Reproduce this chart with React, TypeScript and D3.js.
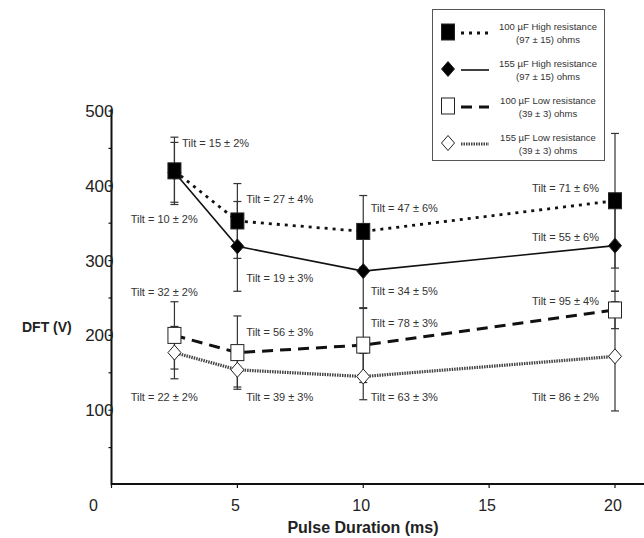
import React from 'react';
import * as d3 from 'd3';

// pulse durations (ms)
const durations = [2.5, 5, 10, 20];

const seriesNames = ['100 µF High resistance', '155 µF High resistance', '100 µF Low resistance', '155 µF Low resistance'];
const seriesOhms = ['(97 ± 15) ohms', '(97 ± 15) ohms', '(39 ± 3) ohms', '(39 ± 3) ohms'];

// DFT (V) and error
const dft100High = [420, 353, 339, 380];
const err100High = [45, 50, 48, 90];
const dft155High = [418, 319, 286, 320];
const err155High = [40, 60, 50, 61];
const dft100Low = [200, 177, 187, 234];
const err100Low = [45, 49, 50, 25];
const dft155Low = [177, 154, 145, 172];
const err155Low = [35, 23, 31, 73];

// tilt annotations, anchored in (ms, V)
const tilt100High = ['15 ± 2%', '27 ± 4%', '47 ± 6%', '71 ± 6%'];
const tiltAtX100High = [2.8, 5.35, 10.3, 16.7];
const tiltAtY100High = [457, 383, 370, 397];
const tilt155High = ['10 ± 2%', '19 ± 3%', '34 ± 5%', '55 ± 6%'];
const tiltAtX155High = [0.76, 5.35, 10.3, 16.7];
const tiltAtY155High = [355, 277, 260, 332];
const tilt100Low = ['32 ± 2%', '56 ± 3%', '78 ± 3%', '95 ± 4%'];
const tiltAtX100Low = [0.76, 5.35, 10.3, 16.7];
const tiltAtY100Low = [258, 204, 217, 246];
const tilt155Low = ['22 ± 2%', '39 ± 3%', '63 ± 3%', '86 ± 2%'];
const tiltAtX155Low = [0.76, 5.35, 10.3, 16.7];
const tiltAtY155Low = [117, 117, 117, 117];

const xTicks = [0, 5, 10, 15, 20];
const yTicks = [100, 200, 300, 400, 500];
const yMinor = [50, 150, 250, 350, 450];

const series = [
  { name: seriesNames[0], ohms: seriesOhms[0], values: dft100High, errs: err100High, tilts: tilt100High, tx: tiltAtX100High, ty: tiltAtY100High, marker: 'square', fill: '#000', dash: '3,5', width: 2.8, color: '#111' },
  { name: seriesNames[1], ohms: seriesOhms[1], values: dft155High, errs: err155High, tilts: tilt155High, tx: tiltAtX155High, ty: tiltAtY155High, marker: 'diamond', fill: '#000', dash: null, width: 1.6, color: '#111' },
  { name: seriesNames[2], ohms: seriesOhms[2], values: dft100Low, errs: err100Low, tilts: tilt100Low, tx: tiltAtX100Low, ty: tiltAtY100Low, marker: 'square', fill: '#fff', dash: '11,7', width: 3, color: '#111' },
  { name: seriesNames[3], ohms: seriesOhms[3], values: dft155Low, errs: err155Low, tilts: tilt155Low, tx: tiltAtX155Low, ty: tiltAtY155Low, marker: 'diamond', fill: '#fff', dash: '1.5,1', width: 3.2, color: '#444' },
];

function Marker({ kind, fill, cx, cy }) {
  if (kind === 'square') {
    return <rect x={cx - 6.5} y={cy - 8} width={13} height={16} fill={fill} stroke="#222" strokeWidth={1} />;
  }
  return <path d={`M${cx},${cy - 7.5}L${cx + 6.5},${cy}L${cx},${cy + 7.5}L${cx - 6.5},${cy}Z`} fill={fill} stroke="#222" strokeWidth={1} />;
}

export default function App() {
  const x = d3.scaleLinear().domain([0, 20]).range([111.5, 615]);
  const y = d3.scaleLinear().domain([0, 500]).range([485, 111]);
  const line = d3.line().x((d) => x(d[0])).y((d) => y(d[1]));
  const font = 'Arial, "Liberation Sans", Helvetica, sans-serif';
  // draw order so the filled square covers the diamond at 2.5 ms
  const drawOrder = [3, 2, 1, 0];

  return (
    <svg width={644} height={538} style={{ position: 'absolute', left: 0, top: 0, background: '#fff' }} fontFamily={font}>
      {/* axes */}
      <line x1={x(0)} x2={x(21.2)} y1={y(0) - 1} y2={y(0) - 1} stroke="#111" strokeWidth={2} />
      <line x1={x(0)} x2={x(0)} y1={y(0)} y2={y(500) - 2} stroke="#111" strokeWidth={2} />
      {xTicks.map((t) => (
        <g key={'xt' + t}>
          <line x1={x(t)} x2={x(t)} y1={y(0) - 1} y2={y(0) + 3} stroke="#111" strokeWidth={1.2} />
          <text x={t === 0 ? x(t) - 18 : x(t) - 2} y={511} textAnchor="middle" fontSize={16} fill="#222">{t}</text>
        </g>
      ))}
      {yMinor.concat(yTicks).map((t) => (
        <line key={'ym' + t} x1={x(0) - 3} x2={x(0)} y1={y(t)} y2={y(t)} stroke="#111" strokeWidth={1.2} />
      ))}
      {yTicks.map((t) => (
        <text key={'yt' + t} x={x(0) + 2} y={y(t) + 6} textAnchor="end" fontSize={17} fill="#222">{t}</text>
      ))}
      <text x={22} y={332} fontSize={14} fontWeight="bold" fill="#222">DFT (V)</text>
      <text x={363} y={533} textAnchor="middle" fontSize={16} fontWeight="bold" fill="#222">Pulse Duration (ms)</text>

      {/* error bars */}
      {series.map((s, si) => s.values.map((v, i) => (
        <g key={`e${si}-${i}`} stroke="#333" strokeWidth={1.2}>
          <line x1={x(durations[i])} x2={x(durations[i])} y1={y(v - s.errs[i])} y2={y(v + s.errs[i])} />
          <line x1={x(durations[i]) - 4} x2={x(durations[i]) + 4} y1={y(v - s.errs[i])} y2={y(v - s.errs[i])} />
          <line x1={x(durations[i]) - 4} x2={x(durations[i]) + 4} y1={y(v + s.errs[i])} y2={y(v + s.errs[i])} />
        </g>
      )))}

      {/* lines */}
      {drawOrder.map((si) => {
        const s = series[si];
        return (
          <path key={'l' + si} d={line(durations.map((d, i) => [d, s.values[i]]))} fill="none"
            stroke={s.color} strokeWidth={s.width} strokeDasharray={s.dash || undefined} />
        );
      })}

      {/* markers */}
      {drawOrder.map((si) => {
        const s = series[si];
        return s.values.map((v, i) => (
          <Marker key={`m${si}-${i}`} kind={s.marker} fill={s.fill} cx={x(durations[i])} cy={y(v)} />
        ));
      })}

      {/* tilt labels */}
      {series.map((s, si) => s.tilts.map((t, i) => (
        <text key={`t${si}-${i}`} x={x(s.tx[i])} y={y(s.ty[i]) + 4} fontSize={11} fill="#333">{'Tilt = ' + t}</text>
      )))}

      {/* legend */}
      <rect x={432.5} y={9.5} width={172} height={151} fill="#fff" stroke="#555" strokeWidth={1} />
      {series.map((s, si) => {
        const cy = 32 + si * 37;
        return (
          <g key={'lg' + si}>
            <Marker kind={s.marker} fill={s.fill} cx={448} cy={cy} />
            <line x1={461} x2={489} y1={cy + 1} y2={cy + 1} stroke={s.color} strokeWidth={s.width}
              strokeDasharray={s.dash || undefined} />
            <text x={548} y={cy - 2} textAnchor="middle" fontSize={9.5} fill="#333">{s.name}</text>
            <text x={548} y={cy + 11} textAnchor="middle" fontSize={9.5} fill="#333">{s.ohms}</text>
          </g>
        );
      })}
    </svg>
  );
}
